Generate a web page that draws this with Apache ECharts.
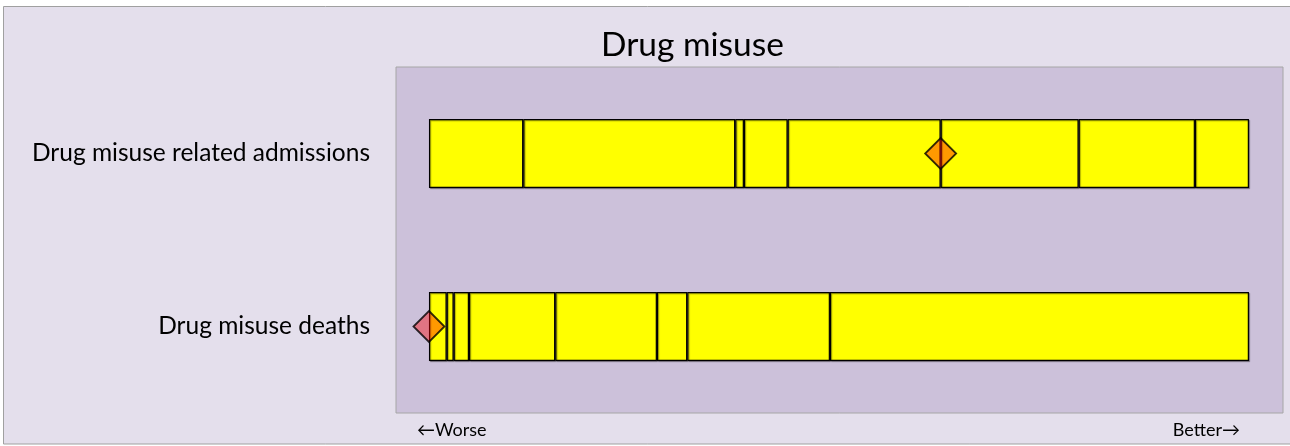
<!DOCTYPE html>
<html>
<head>
<meta charset="utf-8">
<title>Drug misuse</title>
<script src="https://cdn.jsdelivr.net/npm/echarts@6/dist/echarts.min.js"></script>
<style>
  html, body { margin: 0; padding: 0; background: #ffffff; }
  #chart { width: 1290px; height: 446px; }
</style>
</head>
<body>
<div id="chart"></div>
<script>
// Indicator rows (top to bottom)
const categories = ['Drug misuse related admissions', 'Drug misuse deaths'];

// Widths of the band segments on a 0-100 scale, left (worse) to right (better)
const admissionsSegments = [11.5, 25.85, 1.06, 5.33, 18.66, 16.83, 14.18, 6.59];
const deathsSegments = [2.16, 0.85, 1.87, 10.52, 12.4, 3.7, 17.4, 51.1];

// Position of the local value marker on each row
const markerValues = [62.4, 0];

const chart = echarts.init(document.getElementById('chart'));
const font = 'Lato, "Noto Sans", sans-serif';

// one stacked bar series per segment slot
const bandSeries = admissionsSegments.map((v, i) => ({
    type: 'bar',
    stack: 'band',
    barWidth: 69,
    silent: true,
    data: [v, deathsSegments[i]],
    itemStyle: {
        color: '#ffff00',
        borderColor: '#000000',
        borderWidth: 1.2,
        shadowColor: 'rgba(0, 0, 0, 0.35)',
        shadowOffsetX: 1,
        shadowOffsetY: 1,
        shadowBlur: 1
    }
}));

const option = {
    animation: false,
    backgroundColor: '#ffffff',
    title: {
        text: 'Drug misuse',
        left: 596,
        top: 23,
        textStyle: { fontFamily: font, fontSize: 33.5, fontWeight: 'normal', color: '#000000' }
    },
    grid: {
        left: 396,
        right: 7,
        top: 67,
        bottom: 33,
        show: true,
        backgroundColor: '#ccc1da',
        borderColor: '#a6a6a6',
        borderWidth: 1,
        outerBoundsMode: 'none'
    },
    xAxis: {
        type: 'value',
        min: -4.02,
        max: 104.15,
        show: false
    },
    yAxis: {
        type: 'category',
        data: categories,
        inverse: true,
        axisLine: { show: false },
        axisTick: { show: false },
        splitLine: { show: false },
        axisLabel: { fontFamily: font, fontSize: 24.5, color: '#000000', margin: 26 }
    },
    graphic: [
        {
            type: 'rect',
            z: -10,
            silent: true,
            shape: { x: 3.5, y: 6.5, width: 1300, height: 437.5 },
            style: { fill: '#e4dfec', stroke: '#a0a0a0', lineWidth: 1 }
        },
        {
            type: 'text',
            left: 417,
            top: 421,
            style: { text: '←Worse', font: '18px ' + font, fill: '#000000' }
        },
        {
            type: 'text',
            right: 50,
            top: 421,
            style: { text: 'Better→', font: '18px ' + font, fill: '#000000' }
        }
    ],
    series: bandSeries.concat([{
        type: 'scatter',
        symbol: 'diamond',
        symbolSize: 31,
        z: 5,
        silent: true,
        data: markerValues.map((v, i) => [v, categories[i]]),
        itemStyle: {
            color: 'rgba(255, 0, 0, 0.5)',
            borderColor: '#000000',
            borderWidth: 1.8
        }
    }])
};

chart.setOption(option);
window.addEventListener('resize', () => chart.resize());
</script>
</body>
</html>
